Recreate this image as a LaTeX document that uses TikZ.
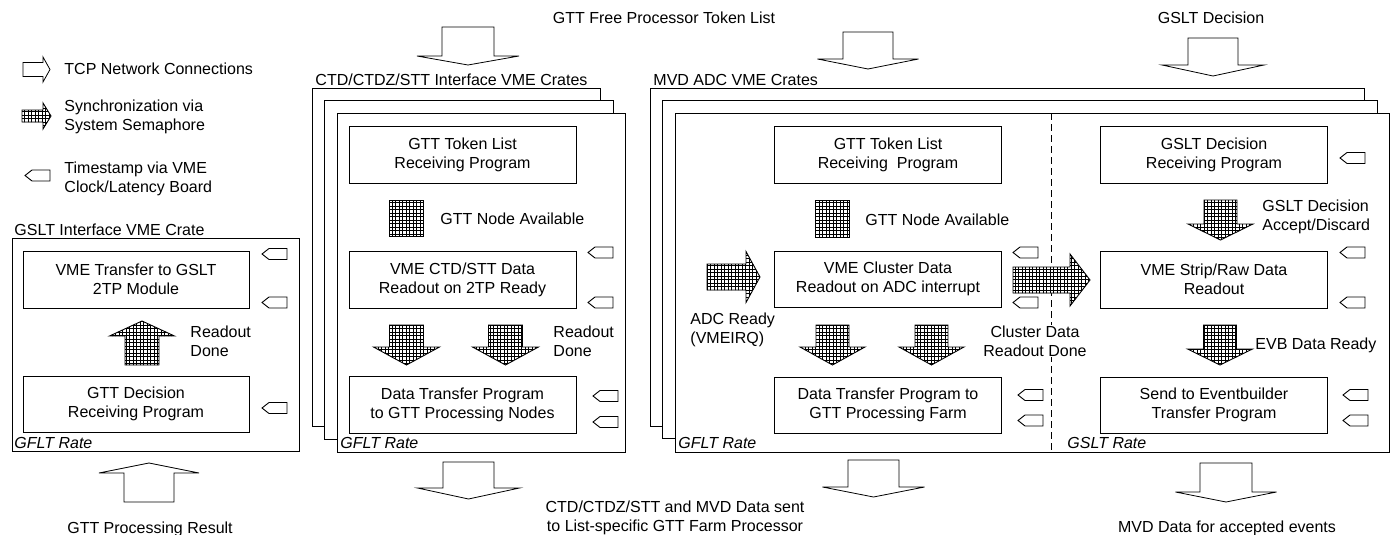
\documentclass[tikz,border=0pt]{standalone}
\usepackage{fontspec}
\setmainfont{Liberation Sans}
\usetikzlibrary{patterns,calc}

% fine square mesh used for the semaphore arrows
\pgfdeclarepatternformonly{cellgrid}{\pgfqpoint{-1pt}{-1pt}}{\pgfqpoint{4.5pt}{4.5pt}}{\pgfqpoint{3.5pt}{3.5pt}}{%
  \pgfsetlinewidth{0.7pt}%
  \pgfpathmoveto{\pgfqpoint{0pt}{0pt}}\pgfpathlineto{\pgfqpoint{0pt}{3.6pt}}%
  \pgfpathmoveto{\pgfqpoint{0pt}{0pt}}\pgfpathlineto{\pgfqpoint{3.6pt}{0pt}}%
  \pgfusepath{stroke}}

% block arrow: style, base point, angle, length, shaft half width, head half width, head length
\newcommand\barrow[7]{%
  \path[#1,shift={#2},rotate=#3]
    (0,-#5) -- ({#4-#7},-#5) -- ({#4-#7},-#6) -- (#4,0) -- ({#4-#7},#6) -- ({#4-#7},#5) -- (0,#5) -- cycle;}

\tikzset{
  pics/tstamp/.style={code={%
    \draw[stampline] (0,-5.5) -- (-18,-5.5) -- (-25,0) -- (-18,5.5) -- (0,5.5) -- cycle;}},
  stampline/.style={draw, fill=white, line width=0.9pt},
}

\begin{document}
\begin{tikzpicture}[x=1pt, y=-1pt, line width=0.9pt,
  every node/.style={font=\fontsize{16}{19}\selectfont, inner sep=0pt},
  prog/.style={draw, fill=white, minimum width=227pt, minimum height=57pt, align=center},
  crate/.style={draw, fill=white},
  lbl/.style={anchor=west, align=left},
  ctr/.style={align=center},
  rate/.style={anchor=west, font=\fontsize{16}{19}\selectfont\itshape},
  tcp/.style={draw, fill=white, line width=0.8pt},
  sync/.style={draw, line width=0.9pt, preaction={fill=white}, pattern=cellgrid},
  sep/.style={dash pattern=on 7pt off 4pt, line width=0.8pt},
]
\useasboundingbox (0,0) rectangle (1395,535);

% ---------------- legend ----------------
\barrow{tcp}{(23,69.5)}{0}{27}{7}{12.5}{7}
\node[lbl] (legtcp) at (64,69) {TCP Network Connections};
\barrow{sync}{(22,116)}{0}{29}{6}{13}{8}
\node[lbl] (legsync) at (64,116.5) {Synchronization via\\System Semaphore};
\pic at (50,175.5) {tstamp};
\node[lbl] (legstamp) at (64,179) {Timestamp via VME\\Clock/Latency Board};

% ---------------- GSLT interface crate ----------------
\node[lbl] (gsltcrate) at (14,230) {GSLT Interface VME Crate};
\draw[crate] (12,238) rectangle (299,451);
\node[prog, minimum width=226pt] (gsltxfer) at (136,279.5) {VME Transfer to GSLT\\2TP Module};
\node[prog, minimum width=226pt, minimum height=56pt] (gttdec) at (136,404) {GTT Decision\\Receiving Program};
\barrow{sync}{(142,365)}{90}{44}{17}{32.5}{15}
\node[lbl] (gsltdone) at (190,341.5) {Readout\\Done};
\pic at (287,254) {tstamp};
\pic at (287,302.5) {tstamp};
\pic at (287,408) {tstamp};
\node[rate] (gsltrate) at (14,443) {GFLT Rate};
\barrow{tcp}{(149,502)}{90}{39}{25}{50}{10}
\node[ctr] (gttres) at (150,529) {GTT Processing Result};

% ---------------- CTD/CTDZ/STT crates ----------------
\node[ctr] (tokenlist) at (664,18) {GTT Free Processor Token List};
\barrow{tcp}{(468,27)}{-90}{38}{26}{51}{9}
\node[lbl] (ctdcrate) at (315,80) {CTD/CTDZ/STT Interface VME Crates};
\draw[crate] (312,88) rectangle (600,426);
\draw[crate] (324,100) rectangle (613,439);
\draw[crate] (337,113) rectangle (625,452);
\node[prog] (ctdtok) at (462.5,154.5) {GTT Token List\\Receiving Program};
\draw[sync] (389,200) rectangle (423,236);
\node[lbl] (ctdavail) at (440,219) {GTT Node Available};
\node[prog] (ctdread) at (462.5,279.5) {VME CTD/STT Data\\Readout on 2TP Ready};
\barrow{sync}{(406.5,325)}{-90}{40}{17}{33}{18}
\barrow{sync}{(505.5,325)}{-90}{40}{17}{33}{18}
\node[lbl] (ctddone) at (553,341.5) {Readout\\Done};
\node[prog] (ctdsend) at (462.5,404.5) {Data Transfer Program\\to GTT Processing Nodes};
\pic at (613,252.5) {tstamp};
\pic at (613,302.5) {tstamp};
\pic at (618,396) {tstamp};
\pic at (618,422) {tstamp};
\node[rate] (ctdrate) at (340,443) {GFLT Rate};
\barrow{tcp}{(468.5,462)}{-90}{37}{25.5}{51}{11}

% ---------------- MVD ADC crates ----------------
\barrow{tcp}{(868,32)}{-90}{37}{25}{50.5}{10}
\node[lbl] (mvdcrate) at (653,80) {MVD ADC VME Crates};
\draw[crate] (650,88) rectangle (1364,426);
\draw[crate] (662,100) rectangle (1377,438);
\draw[crate] (675,113) rectangle (1389,452);
\draw[sep] (1051,113) -- (1051,452);

\node[prog] (mvdtok) at (888,154.5) {GTT Token List\\Receiving\ \ Program};
\draw[sync] (815,200) rectangle (849,237);
\node[lbl] (mvdavail) at (865,220) {GTT Node Available};
\node[prog, minimum height=56pt] (mvdread) at (888,279) {VME Cluster Data\\Readout on ADC interrupt};
\barrow{sync}{(707,277)}{0}{53}{13}{25.5}{14}
\node[lbl] (adcready) at (690,329.5) {ADC Ready\\(VMEIRQ)};
\barrow{sync}{(832.5,325)}{-90}{40}{16.5}{32.5}{18}
\barrow{sync}{(931.5,325)}{-90}{40}{16.5}{32.5}{18}
\node[prog, minimum height=56pt] (mvdsend) at (888,405) {Data Transfer Program to\\GTT Processing Farm};
\pic at (1038,252.5) {tstamp};
\pic at (1038,302.5) {tstamp};
\pic at (1043,395) {tstamp};
\pic at (1043,420.5) {tstamp};
\barrow{sync}{(1013,280)}{0}{77}{13}{26}{20}
\node[ctr, fill=white, inner sep=1pt] (clusterdone) at (1035,341) {Cluster Data\\Readout Done};
\node[rate] (mvdrate) at (678,443) {GFLT Rate};
\barrow{tcp}{(873.5,460)}{-90}{37}{25.5}{51}{10}
\node[ctr] (datasent) at (675,517.5) {CTD/CTDZ/STT and MVD Data sent\\to List-specific GTT Farm Processor};

% GSLT side of the MVD crates
\node[ctr] (gsltdecision) at (1211,18) {GSLT Decision};
\barrow{tcp}{(1213,38)}{-90}{38}{25}{51}{11}
\node[prog] (gsltrecv) at (1214,154.5) {GSLT Decision\\Receiving Program};
\pic at (1365,158) {tstamp};
\barrow{sync}{(1220.5,200)}{-90}{40}{16.5}{32.5}{16}
\node[lbl] (acceptdiscard) at (1262,216.5) {GSLT Decision\\Accept/Discard};
\node[prog] (striprd) at (1214,279.5) {VME Strip/Raw Data\\Readout};
\pic at (1365,252.5) {tstamp};
\pic at (1365,302.5) {tstamp};
\barrow{sync}{(1220,325)}{-90}{40}{16.5}{32.5}{16}
\node[lbl] (evbready) at (1255,345) {EVB Data Ready};
\node[prog, minimum height=56pt] (evbsend) at (1214,405) {Send to Eventbuilder\\Transfer Program};
\pic at (1368,395) {tstamp};
\pic at (1368,420.5) {tstamp};
\node[rate] (gsltrate2) at (1067,443) {GSLT Rate};
\barrow{tcp}{(1226,463)}{-90}{39}{26}{50.5}{10}
\node[ctr] (mvdaccepted) at (1227,528) {MVD Data for accepted events};
\end{tikzpicture}
\end{document}
